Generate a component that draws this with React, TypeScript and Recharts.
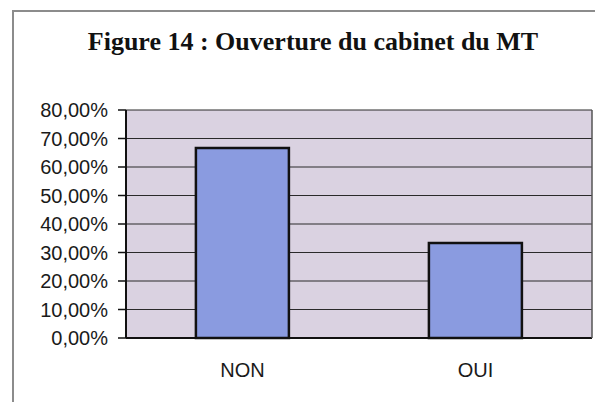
import React from "react";
import { BarChart, Bar, XAxis, YAxis, CartesianGrid } from "recharts";

const categories = ["NON", "OUI"];
const shares = [0.6667, 0.3333];
const yTicks = [0, 0.1, 0.2, 0.3, 0.4, 0.5, 0.6, 0.7, 0.8];

const data = categories.map((c, i) => ({ name: c, value: shares[i] }));

const fmtPct = (v: number) => (v * 100).toFixed(2).replace(".", ",") + "%";

const axisFont = { fontFamily: "'Liberation Sans', Arial, sans-serif", fontSize: 20, fill: "#1a1a1a" };

export default function App() {
  return (
    <div style={{ position: "relative", width: 595, height: 394 }}>
      <div style={{ position: "absolute", left: 0, top: 0 }}>
        <BarChart
          width={595}
          height={394}
          data={data}
          margin={{ top: 102, right: 10, bottom: 0, left: 0 }}
          barCategoryGap="30%"
        >
          <CartesianGrid yAxisId="left" vertical={false} fill="#dad2e1" stroke="#2a2a2a" strokeWidth={1} />
          <XAxis
            dataKey="name"
            height={64}
            axisLine={{ stroke: "#111", strokeWidth: 2 }}
            tickLine={{ stroke: "transparent" }}
            tickSize={8}
            tickMargin={17}
            tick={axisFont}
          />
          <YAxis
            yAxisId="left"
            width={118}
            domain={[0, 0.8]}
            ticks={yTicks}
            tickFormatter={fmtPct}
            interval={0}
            axisLine={{ stroke: "#111", strokeWidth: 2 }}
            tickLine={{ stroke: "#111", strokeWidth: 1.5 }}
            tickSize={8}
            tickMargin={10}
            tick={axisFont}
          />
          <YAxis
            yAxisId="right"
            orientation="right"
            width={1}
            domain={[0, 0.8]}
            ticks={yTicks}
            tick={false}
            tickLine={false}
            axisLine={{ stroke: "#555", strokeWidth: 1.5 }}
          />
          <Bar
            yAxisId="left"
            dataKey="value"
            fill="#8a9be0"
            stroke="#111"
            strokeWidth={2.5}
            isAnimationActive={false}
          />
        </BarChart>
      </div>
      <div
        style={{
          position: "absolute",
          left: 8,
          top: 20,
          width: 594,
          textAlign: "center",
          fontFamily: "'Liberation Serif', 'Times New Roman', serif",
          fontWeight: "bold",
          fontSize: 26,
          lineHeight: "27px",
          color: "#111",
        }}
      >
        Figure 14 : Ouverture du cabinet du MT
      </div>
      {/* frame of the figure: only left and top edges show */}
      <div style={{ position: "absolute", left: 4, top: 2, width: 591, height: 2, background: "#8c8c8c" }} />
      <div style={{ position: "absolute", left: 4, top: 2, width: 2, height: 392, background: "#8c8c8c" }} />
    </div>
  );
}
